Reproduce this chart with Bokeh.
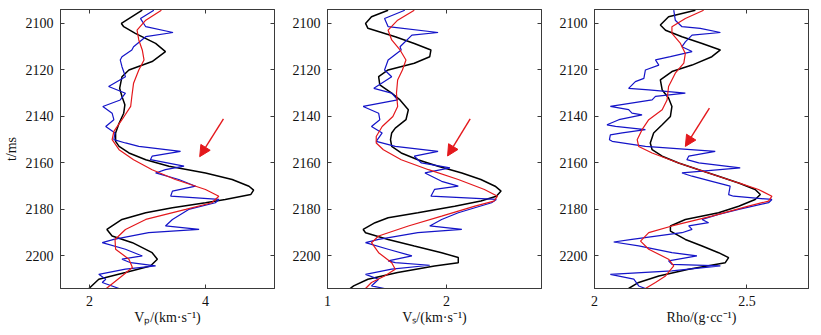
from bokeh.plotting import figure
from bokeh.layouts import row
from bokeh.models import Range1d, FixedTicker, LinearAxis, Arrow, NormalHead, ColumnDataSource
from bokeh.embed import file_html
from bokeh.resources import INLINE

# ---------------- data ----------------
# Panel 1: Vp (km/s)
vp_black_t = [2094.3, 2100.0, 2101.4, 2104.3, 2108.6, 2112.1, 2116.4, 2120.0, 2122.9, 2127.9, 2131.4, 2135.0,
              2138.6, 2142.9, 2147.1, 2150.7, 2152.9, 2155.7, 2158.6, 2161.4, 2164.3, 2167.1, 2170.0, 2171.7,
              2173.6, 2175.7, 2177.1, 2179.3, 2181.4, 2184.3, 2187.1, 2188.6, 2191.4, 2194.3, 2198.6, 2201.4,
              2204.3, 2207.1, 2210.0, 2214.0]
vp_black = [2.91, 2.55, 2.59, 2.79, 3.14, 3.31, 3.08, 2.68, 2.56, 2.52, 2.56, 2.61,
            2.59, 2.51, 2.45, 2.45, 2.51, 2.68, 2.97, 3.37, 4.00, 4.46, 4.75, 4.83,
            4.78, 4.34, 4.00, 3.43, 2.97, 2.56, 2.39, 2.30, 2.39, 2.74, 3.08, 3.17,
            3.05, 2.62, 2.16, 1.99]
vp_red_t = [2094.3, 2098.6, 2102.9, 2107.1, 2111.4, 2115.7, 2120.0, 2125.7, 2131.4, 2135.7, 2141.4, 2146.4,
            2150.0, 2154.3, 2158.6, 2162.9, 2167.1, 2171.4, 2174.3, 2177.1, 2180.0, 2184.3, 2188.6, 2192.9,
            2197.1, 2201.4, 2205.0, 2208.6, 2214.0]
vp_red = [3.24, 2.97, 2.82, 2.85, 2.91, 2.94, 2.85, 2.76, 2.73, 2.71, 2.56, 2.42,
          2.39, 2.51, 2.76, 3.08, 3.48, 4.00, 4.23, 4.11, 3.66, 2.97, 2.62, 2.44,
          2.45, 2.68, 2.74, 2.56, 2.29]
vp_blue_t = [2094.3, 2097.9, 2101.4, 2103.9, 2105.7, 2110.0, 2111.4, 2114.3, 2115.7, 2118.6, 2122.9, 2127.1,
             2130.0, 2132.9, 2135.7, 2138.6, 2141.4, 2144.3, 2147.1, 2150.0, 2151.4, 2152.9, 2155.0, 2157.1,
             2158.6, 2161.4, 2162.9, 2164.3, 2167.1, 2170.0, 2172.1, 2174.3, 2175.7, 2177.1, 2180.0, 2184.3,
             2187.1, 2188.6, 2190.0, 2192.9, 2194.3, 2197.1, 2200.0, 2201.4, 2202.9, 2204.3, 2205.7, 2207.9,
             2210.0, 2211.4, 2214.0]
vp_blue = [3.11, 2.88, 2.97, 3.44, 2.97, 2.76, 2.73, 2.56, 2.53, 2.56, 2.62, 2.33,
           2.62, 2.53, 2.23, 2.39, 2.42, 2.28, 2.44, 2.42, 2.62, 2.85, 3.57, 3.08,
           3.05, 3.63, 3.31, 3.14, 3.54, 3.83, 3.43, 3.40, 4.23, 4.17, 3.71, 3.43,
           3.31, 3.89, 3.02, 2.42, 2.22, 2.62, 2.91, 2.56, 2.71, 3.14, 2.62, 2.16,
           2.28, 2.22, 2.51]

# Panel 2: Vs (km/s)
vs_black_t = [2094.3, 2097.1, 2100.0, 2102.1, 2105.7, 2108.6, 2111.4, 2114.3, 2117.1, 2120.0, 2122.9, 2126.4,
              2130.0, 2132.9, 2137.1, 2141.4, 2145.0, 2147.1, 2150.0, 2152.9, 2155.7, 2158.6, 2161.4, 2164.3,
              2167.1, 2170.0, 2172.1, 2174.3, 2176.4, 2178.6, 2181.4, 2183.6, 2185.7, 2188.6, 2190.0, 2192.9,
              2195.7, 2198.6, 2200.7, 2202.9, 2204.3, 2207.1, 2210.0, 2212.9, 2214.0]
vs_black = [1.51, 1.37, 1.32, 1.34, 1.57, 1.73, 1.87, 1.86, 1.73, 1.51, 1.43, 1.44,
            1.54, 1.61, 1.68, 1.66, 1.57, 1.54, 1.53, 1.54, 1.62, 1.76, 1.93, 2.13,
            2.29, 2.41, 2.46, 2.42, 2.29, 2.07, 1.76, 1.51, 1.40, 1.30, 1.32, 1.51,
            1.73, 1.96, 2.10, 2.10, 1.90, 1.59, 1.34, 1.22, 1.19]
vs_red_t = [2094.3, 2098.6, 2102.9, 2107.1, 2111.4, 2115.7, 2120.0, 2124.3, 2130.0, 2135.7, 2140.0, 2144.3,
            2148.6, 2151.4, 2154.3, 2158.6, 2162.9, 2167.1, 2171.4, 2174.3, 2176.4, 2178.6, 2182.9, 2187.1,
            2191.4, 2194.3, 2198.6, 2202.9, 2205.7, 2208.6, 2211.4, 2214.0]
vs_red = [1.73, 1.59, 1.51, 1.54, 1.61, 1.66, 1.63, 1.59, 1.58, 1.59, 1.55, 1.46,
          1.41, 1.41, 1.47, 1.62, 1.85, 2.10, 2.32, 2.43, 2.40, 2.24, 1.96, 1.68,
          1.43, 1.37, 1.43, 1.54, 1.57, 1.48, 1.37, 1.32]
vs_blue_t = [2094.3, 2097.9, 2101.4, 2103.9, 2105.0, 2110.0, 2111.4, 2115.7, 2120.0, 2122.9, 2127.9, 2130.0,
             2132.9, 2135.7, 2138.6, 2141.4, 2144.3, 2147.1, 2150.7, 2152.9, 2155.0, 2157.1, 2160.0, 2162.1,
             2164.3, 2167.9, 2170.0, 2171.4, 2174.3, 2175.7, 2177.1, 2181.4, 2184.3, 2187.1, 2188.6, 2190.0,
             2192.9, 2194.3, 2197.1, 2200.0, 2202.1, 2202.9, 2204.0, 2205.7, 2207.9, 2210.0, 2212.9, 2214.0]
vs_blue = [1.65, 1.48, 1.51, 1.93, 1.71, 1.61, 1.62, 1.51, 1.48, 1.54, 1.39, 1.54,
           1.59, 1.30, 1.43, 1.44, 1.37, 1.46, 1.41, 1.57, 1.93, 1.73, 1.79, 2.03,
           1.82, 1.96, 2.10, 1.90, 1.87, 2.42, 2.38, 2.10, 1.96, 1.86, 2.13, 1.76,
           1.43, 1.32, 1.51, 1.71, 1.51, 1.57, 1.86, 1.54, 1.32, 1.43, 1.37, 1.48]

# Panel 3: Rho (g/cc)
rho_black_t = [2094.3, 2097.1, 2100.7, 2102.9, 2105.7, 2108.6, 2111.4, 2114.3, 2117.9, 2120.7, 2124.3, 2128.6,
               2132.1, 2135.7, 2140.0, 2143.6, 2147.1, 2151.4, 2154.3, 2157.1, 2160.0, 2162.9, 2165.7, 2168.6,
               2171.4, 2173.6, 2175.7, 2178.6, 2181.4, 2184.3, 2187.1, 2189.3, 2192.9, 2195.7, 2198.6, 2200.7,
               2202.9, 2205.7, 2208.6, 2211.4, 2214.0]
rho_black = [2.331, 2.243, 2.216, 2.233, 2.287, 2.353, 2.413, 2.385, 2.320, 2.254, 2.216, 2.222,
             2.243, 2.254, 2.249, 2.222, 2.194, 2.183, 2.189, 2.222, 2.276, 2.342, 2.407, 2.473,
             2.527, 2.544, 2.527, 2.473, 2.407, 2.298, 2.249, 2.249, 2.298, 2.353, 2.407, 2.440,
             2.429, 2.309, 2.211, 2.145, 2.112]
rho_red_t = [2094.3, 2097.9, 2101.4, 2104.3, 2108.6, 2112.9, 2117.1, 2121.4, 2127.1, 2132.9, 2137.1, 2141.4,
             2145.7, 2150.0, 2152.9, 2155.7, 2160.0, 2164.3, 2168.6, 2171.4, 2174.3, 2176.4, 2178.6, 2182.9,
             2187.1, 2190.0, 2193.6, 2197.1, 2201.4, 2204.3, 2208.6, 2211.4, 2214.0]
rho_red = [2.358, 2.298, 2.254, 2.254, 2.282, 2.298, 2.293, 2.265, 2.243, 2.238, 2.222, 2.178,
           2.156, 2.140, 2.145, 2.189, 2.276, 2.374, 2.473, 2.538, 2.582, 2.571, 2.505, 2.385,
           2.254, 2.178, 2.151, 2.178, 2.243, 2.260, 2.233, 2.200, 2.167]
rho_blue_t = [2094.3, 2098.6, 2101.4, 2102.1, 2103.9, 2105.0, 2107.9, 2110.0, 2112.1, 2114.3, 2115.7, 2117.9,
              2120.0, 2123.6, 2125.0, 2127.9, 2128.6, 2130.0, 2131.4, 2132.9, 2135.7, 2137.1, 2138.6, 2139.3,
              2141.4, 2143.6, 2144.3, 2145.7, 2147.1, 2147.9, 2150.0, 2150.7, 2152.9, 2155.0, 2157.1, 2158.6,
              2160.0, 2162.1, 2164.3, 2165.7, 2167.9, 2170.0, 2173.6, 2174.3, 2175.7, 2177.1, 2180.0, 2182.1,
              2184.3, 2185.7, 2187.1, 2188.6, 2190.0, 2192.9, 2194.0, 2195.7, 2198.6, 2200.0, 2202.1, 2203.6,
              2204.3, 2206.4, 2207.9, 2210.0, 2212.9, 2214.0]
rho_blue = [2.260, 2.265, 2.287, 2.347, 2.413, 2.320, 2.298, 2.287, 2.320, 2.249, 2.200, 2.211,
            2.167, 2.162, 2.134, 2.112, 2.178, 2.298, 2.200, 2.189, 2.052, 2.112, 2.123, 2.156,
            2.080, 2.041, 2.069, 2.167, 2.091, 2.052, 2.049, 2.058, 2.167, 2.396, 2.309, 2.303,
            2.342, 2.478, 2.287, 2.320, 2.385, 2.445, 2.440, 2.456, 2.582, 2.571, 2.473, 2.407,
            2.353, 2.374, 2.309, 2.320, 2.287, 2.123, 2.063, 2.145, 2.254, 2.336, 2.243, 2.254,
            2.413, 2.254, 2.052, 2.129, 2.145, 2.167]

# arrows: (x_tail, t_tail, x_head, t_head)
vp_arrow = (4.31, 2141.0, 3.90, 2157.3)
vs_arrow = (2.20, 2141.0, 2.01, 2157.0)
rho_arrow = (2.377, 2136.4, 2.298, 2152.9)

time_ticks = [2100, 2120, 2140, 2160, 2180, 2200]
vp_ticks = [2, 4]
vs_ticks = [1, 2]
rho_ticks = [2, 2.5]

# ---------------- styling ----------------
FONT = "Liberation Serif"
BLACK = "#000000"
BLUE = "#1414c8"
RED = "#e4181c"
FRAME = "#3a3a3a"


def style_axis(ax, ticks, show_labels=True):
    ax.ticker = FixedTicker(ticks=ticks)
    ax.major_tick_in = 4
    ax.major_tick_out = 0
    ax.minor_tick_in = 0
    ax.minor_tick_out = 0
    ax.axis_line_color = FRAME
    ax.major_tick_line_color = FRAME
    ax.major_label_text_font = FONT
    ax.major_label_text_color = "#111111"
    ax.axis_label_text_font = FONT
    ax.axis_label_text_font_style = "normal"
    ax.axis_label_text_color = "#111111"
    ax.major_label_text_font_size = "14px"
    ax.axis_label_text_font_size = "14px"
    if show_labels:
        ax.major_label_standoff = 7
        ax.axis_label_standoff = 1
    else:
        ax.major_label_overrides = {t: "" for t in ticks}
        ax.major_label_standoff = 0
        ax.axis_label = None


def make_panel(xr, xticks, xlabel, black, red, blue, arrow, ylabel, left, right):
    p = figure(frame_width=214, frame_height=279,
               x_range=Range1d(*xr), y_range=Range1d(2214, 2094),
               output_backend="svg", toolbar_location=None,
               min_border_left=left, min_border_right=right,
               min_border_top=9, min_border_bottom=34)
    p.xgrid.visible = False
    p.ygrid.visible = False
    p.outline_line_color = FRAME
    p.outline_line_width = 1
    p.background_fill_color = "white"
    p.border_fill_color = "white"

    style_axis(p.xaxis[0], xticks)
    p.xaxis[0].axis_label = xlabel
    style_axis(p.yaxis[0], time_ticks)
    if ylabel:
        p.yaxis[0].axis_label = ylabel
        p.yaxis[0].axis_label_standoff = 4

    top = LinearAxis()
    style_axis(top, xticks, show_labels=False)
    p.add_layout(top, "above")
    rgt = LinearAxis()
    style_axis(rgt, time_ticks, show_labels=False)
    p.add_layout(rgt, "right")

    for (tt, vv), col, lw in ((black, BLACK, 1.5), (blue, BLUE, 1.2), (red, RED, 1.2)):
        src = ColumnDataSource(data=dict(v=list(vv), t=list(tt)))
        p.line(x="v", y="t", source=src, line_color=col, line_width=lw)

    p.add_layout(Arrow(end=NormalHead(size=11, fill_color=RED, line_color=RED),
                       x_start=arrow[0], y_start=arrow[1], x_end=arrow[2], y_end=arrow[3],
                       line_color=RED, line_width=1.4))
    return p


p1 = make_panel((1.5, 5.19), vp_ticks, "Vₚ/(km·s⁻¹)",
                (vp_black_t, vp_black), (vp_red_t, vp_red), (vp_blue_t, vp_blue),
                vp_arrow, "t/ms", 58, 14)
p2 = make_panel((1.0, 2.8), vs_ticks, "Vₛ/(km·s⁻¹)",
                (vs_black_t, vs_black), (vs_red_t, vs_red), (vs_blue_t, vs_blue),
                vs_arrow, None, 39, 14)
p3 = make_panel((2.0, 2.702), rho_ticks, "Rho/(g·cc⁻¹)",
                (rho_black_t, rho_black), (rho_red_t, rho_red), (rho_blue_t, rho_blue),
                rho_arrow, None, 39, 3)

layout = row(p1, p2, p3)
open("out.html", "w").write(file_html(layout, INLINE))
